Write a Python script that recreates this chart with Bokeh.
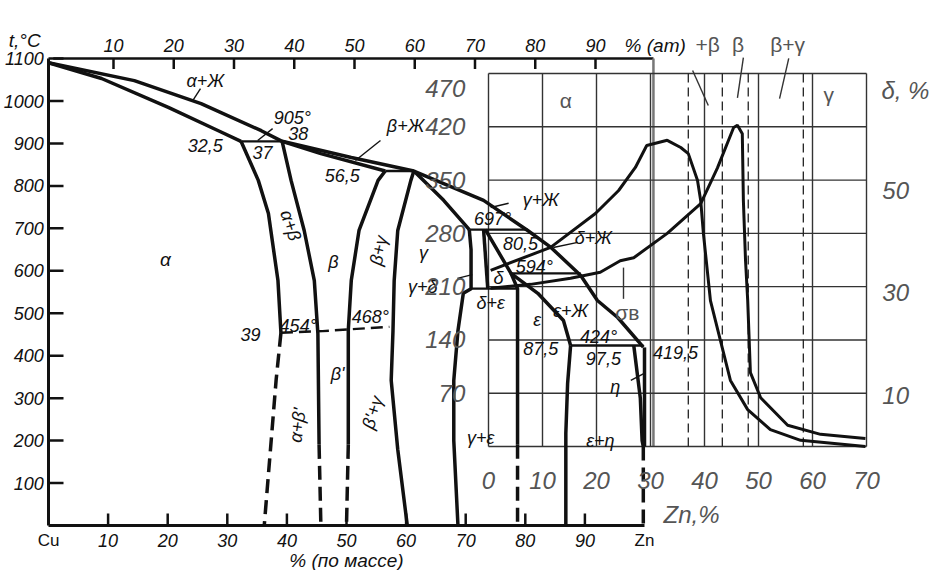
from bokeh.plotting import figure
from bokeh.models import Range1d, ColumnDataSource
from bokeh.embed import file_html
from bokeh.resources import INLINE
from bokeh.core.properties import value

FONT = "Liberation Sans"

# ---------------- Cu-Zn phase diagram (wt.% Zn, deg C) ----------------
temp_ticks = [100, 200, 300, 400, 500, 600, 700, 800, 900, 1000, 1100]
wt_ticks = [10, 20, 30, 40, 50, 60, 70, 80, 90]
wt_ends = [0, 100]
wt_end_names = ["Cu", "Zn"]
at_ticks = [10, 20, 30, 40, 50, 60, 70, 80, 90]

liquidus_wt = [0, 14.4, 25.6, 35.7, 39.2, 50.8, 61.3, 73.0, 80.4, 84.3, 89.3, 92.1, 95.5, 99.8]
liquidus_t = [1090, 1048, 994, 930, 905, 867, 835, 766, 695, 655, 589, 530, 490, 420]
alpha_solidus_wt = [0, 8.9, 20.1, 28.5, 32.3]
alpha_solidus_t = [1090, 1053, 985, 930, 905]
beta_solidus_wt = [39.2, 45.7, 56.5]
beta_solidus_t = [905, 876, 835]
gamma_solidus_wt = [61.3, 66.3, 70.6]
gamma_solidus_t = [835, 766, 697]
de_solidus_wt = [73.3, 77.6, 82.1, 86.4, 87.6]
de_solidus_t = [697, 594, 547, 483, 424]

alpha_solvus_wt = [32.3, 35.2, 36.9, 38.5, 39.0]
alpha_solvus_t = [905, 813, 735, 577, 454]
alpha_solvus_low_wt = [39.0, 38.2, 36.2]
alpha_solvus_low_t = [454, 344, 0]
beta_left_wt = [39.2, 40.7, 42.9, 44.6, 45.2, 45.4]
beta_left_t = [905, 813, 695, 577, 452, 190]
beta_left_low_wt = [45.4, 45.7]
beta_left_low_t = [190, 0]
beta_right_wt = [56.5, 55.3, 52.1, 50.8, 50.3, 50.3, 50.3]
beta_right_t = [835, 813, 695, 577, 460, 342, 190]
beta_right_low_wt = [50.3, 50.0]
beta_right_low_t = [190, 0]
gamma_left_wt = [61.3, 60.8, 58.6, 58.0, 57.8, 57.5, 58.6, 60.2]
gamma_left_t = [835, 813, 695, 577, 459, 342, 179, 0]
gamma_right_wt = [70.6, 70.9, 70.9, 69.6, 68.7, 68.0, 68.0, 68.7]
gamma_right_t = [697, 650, 558, 547, 459, 342, 200, 0]
delta_left_wt = [73.0, 73.7]
delta_left_t = [697, 558]
eps_left_wt = [77.6, 78.7, 78.7]
eps_left_t = [594, 558, 190]
eps_left_low_wt = [78.7, 78.7]
eps_left_low_t = [190, 0]
eps_right_wt = [87.6, 87.1, 86.8, 86.8]
eps_right_t = [424, 335, 217, 0]
eta_wt = [98.2, 99.3, 99.6, 99.8]
eta_t = [424, 300, 200, 186]
zn_wt = [100, 100]
zn_t = [419.5, 186]
zn_low_wt = [99.8, 99.8]
zn_low_t = [186, -10]

iso_t = [905, 835, 697, 594, 558, 424]
iso_from = [32.3, 56.5, 70.6, 77.6, 70.9, 87.6]
iso_to = [39.2, 61.3, 80.4, 89.3, 78.7, 99.8]

order_wt = [39.0, 46.0, 57.2]
order_t = [454, 458, 468]

# ---------------- inset: properties of brass vs Zn content ----------------
zn_grid = [0, 10, 20, 30, 40, 50, 60, 70]
sig_grid = [0, 70, 140, 210, 280, 350, 420, 490]
sig_ticks = [70, 140, 210, 280, 350, 420, 470]
delta_ticks = [10, 30, 50]
phase_limits_zn = [37.0, 43.3, 48.1, 58.3]

sigma_zn = [0.4, 7.8, 15.2, 20.7, 24.4, 26.9, 33.1, 39.3, 42.4, 45.4, 46.1, 47.0, 47.2, 47.6, 48.0, 48.5, 50.4, 55.4, 61.5, 69.8]
sigma_mpa = [208, 213, 221, 229, 244, 248, 280, 319, 366, 419, 422, 411, 323, 244, 192, 97, 64, 28, 16, 10.5]
delta_zn = [0.4, 11.5, 19.8, 24.1, 27.2, 29.3, 33.1, 35.6, 37.0, 38.7, 39.3, 39.8, 41.1, 44.8, 48.0, 52.2, 57.8, 69.8]
delta_pct = [34.4, 38.9, 45.5, 50.0, 54.5, 58.8, 59.8, 58.4, 57.2, 52.0, 48.0, 41.6, 28.5, 12.9, 7.2, 3.3, 1.2, 0]

# ---------------- figure (frame = whole canvas) ----------------
p = figure(width=932, height=570, x_range=Range1d(-8.054, 148.322), y_range=Range1d(-106.01, 1236.75),
           output_backend="svg", toolbar_location=None, x_axis_type=None, y_axis_type=None,
           min_border=0, min_border_left=0, min_border_right=0, min_border_top=0, min_border_bottom=0)
p.outline_line_color = None
p.background_fill_color = "white"
p.border_fill_color = "white"
p.extra_x_ranges = {"at": Range1d(-8.755, 145.934), "zn": Range1d(-90.370, 82.222)}
p.extra_y_ranges = {"sig": Range1d(-162.90, 585.92), "delta": Range1d(-24.219, 87.109)}

INK = "#111"
GRAY = "#555"
T_TICK = 15 / 0.4245      # tick lengths expressed through the scales
W_TICK = 15 / 5.96

# ---------- axes of the phase diagram ----------
p.line([0, 0], [0, 1100], line_width=3, line_color=INK)
p.line([0, 100], [0, 0], line_width=3, line_color=INK)
p.line([0.8, 101.5], [1100, 1100], line_width=2.5, line_color=INK)
p.line([101.5, 101.5], [1100, 186], line_width=2.5, line_color="#777")
p.segment(x0=[0] * len(temp_ticks), y0=temp_ticks, x1=[W_TICK] * len(temp_ticks), y1=temp_ticks,
          line_width=2.5, line_color=INK)
p.segment(x0=wt_ticks, y0=[0] * len(wt_ticks), x1=wt_ticks, y1=[T_TICK * 0.8] * len(wt_ticks),
          line_width=2.5, line_color=INK)
p.segment(x0=at_ticks, y0=[1100] * len(at_ticks), x1=at_ticks, y1=[1100 - T_TICK * 0.7] * len(at_ticks),
          x_range_name="at", line_width=2.5, line_color=INK)

axis_txt = dict(text_font=value(FONT), text_font_size="18px", text_font_style="italic",
                text_baseline="middle", text_color=INK)
p.text(x=[-0.8] * len(temp_ticks), y=temp_ticks, text=[str(v) for v in temp_ticks],
       text_align="right", **axis_txt)
p.text(x=wt_ticks, y=[-35] * len(wt_ticks), text=[str(v) for v in wt_ticks],
       text_align="center", **axis_txt)
p.text(x=wt_ends, y=[-35, -35], text=wt_end_names, text_align="center",
       text_font=value(FONT), text_font_size="17px", text_baseline="middle", text_color=INK)
p.text(x=at_ticks, y=[1130] * len(at_ticks), text=[str(v) for v in at_ticks], x_range_name="at",
       text_align="center", **axis_txt)

# ---------- inset grid ----------
p.segment(x0=zn_grid, y0=[0] * len(zn_grid), x1=zn_grid, y1=[490] * len(zn_grid),
          x_range_name="zn", y_range_name="sig", line_color="#333", line_width=1.4)
p.segment(x0=[0] * len(sig_grid), y0=sig_grid, x1=[70] * len(sig_grid), y1=sig_grid,
          x_range_name="zn", y_range_name="sig", line_color="#333", line_width=1.4)
p.segment(x0=phase_limits_zn, y0=[0] * 4, x1=phase_limits_zn, y1=[490] * 4,
          x_range_name="zn", y_range_name="sig", line_color="#222", line_width=1.3, line_dash="9 5")

# ---------- phase diagram lines ----------
solid_thick = [
    (liquidus_wt, liquidus_t), (alpha_solidus_wt, alpha_solidus_t), (beta_solidus_wt, beta_solidus_t),
    (gamma_solidus_wt, gamma_solidus_t), (de_solidus_wt, de_solidus_t),
    (alpha_solvus_wt, alpha_solvus_t), (beta_left_wt, beta_left_t), (beta_right_wt, beta_right_t),
    (gamma_left_wt, gamma_left_t), (gamma_right_wt, gamma_right_t), (delta_left_wt, delta_left_t),
    (eps_left_wt, eps_left_t), (eps_right_wt, eps_right_t), (eta_wt, eta_t), (zn_wt, zn_t),
]
p.multi_line(xs=[a for a, b in solid_thick], ys=[b for a, b in solid_thick],
             line_color=INK, line_width=3.5)
dashed_thick = [
    (alpha_solvus_low_wt, alpha_solvus_low_t), (beta_left_low_wt, beta_left_low_t),
    (beta_right_low_wt, beta_right_low_t), (eps_left_low_wt, eps_left_low_t), (zn_low_wt, zn_low_t),
]
p.multi_line(xs=[a for a, b in dashed_thick], ys=[b for a, b in dashed_thick],
             line_color=INK, line_width=3.5, line_dash="14 7")
p.segment(x0=iso_from, y0=iso_t, x1=iso_to, y1=iso_t, line_color=INK, line_width=2.4)
p.line(order_wt, order_t, line_color=INK, line_width=2.4, line_dash="12 6")

# leaders in diagram
ld_x0 = [24.2, 35.1, 51.5, 74.2, 84.7, 97.7, 68.6]
ld_y0 = [1001, 907, 860, 749, 655, 342, 582]
ld_x1 = [25.5, 37.6, 55.7, 77.2, 88.8, 100.2, 71.1]
ld_y1 = [1029, 935, 907, 759, 667, 360, 591]
p.segment(x0=ld_x0, y0=ld_y0, x1=ld_x1, y1=ld_y1, line_color=INK, line_width=1.4)

# ---------- inset curves ----------
p.line(sigma_zn, sigma_mpa, x_range_name="zn", y_range_name="sig", line_color=INK, line_width=3)
p.line(delta_zn, delta_pct, x_range_name="zn", y_range_name="delta", line_color=INK, line_width=3)
p.segment(x0=[25.0, 37.8, 47.2, 55.6], y0=[235, 494, 511, 510], x1=[25.0, 40.7, 46.1, 53.9],
          y1=[194, 448, 458, 457], x_range_name="zn", y_range_name="sig", line_color="#333", line_width=1.4)

# ---------- texts ----------
ph_text = ["α+Ж", "905°", "38", "32,5", "37", "β+Ж", "56,5", "α+β", "β", "β+γ", "γ", "γ+δ",
           "697°", "γ+Ж", "80,5", "δ+Ж", "594°", "δ", "δ+ε", "ε", "ε+Ж", "424°", "87,5", "97,5",
           "419,5", "η", "454°", "39", "468°", "β'", "α+β'", "β'+γ", "γ+ε", "ε+η"]
ph_x = [26.3, 40.9, 41.9, 26.3, 35.9, 59.9, 49.3, 40.6, 47.8, 55.4, 62.9, 62.8,
        74.5, 82.6, 79.2, 91.4, 81.5, 75.5, 74.2, 82.0, 87.6, 92.3, 82.6, 93.1,
        105.2, 95.1, 41.9, 33.9, 54.0, 48.5, 41.8, 54.4, 72.5, 92.6]
ph_y = [1048, 961, 923, 895, 879, 942, 825, 707, 620, 648, 641, 561,
        721, 766, 664, 678, 610, 584, 525, 483, 506, 445, 417, 393,
        408, 327, 471, 450, 490, 356, 236, 266, 205, 200]
ph_angle = [0, 0, 0, 0, 0, 0, 0, -72, 0, 78, 0, 0,
            0, 0, 0, 0, 0, 0, 0, 0, 0, 0, 0, 0,
            0, 0, 0, 0, 0, 0, 82, 73, 0, 0]
src = ColumnDataSource(dict(x=ph_x, y=ph_y, text=ph_text, angle=ph_angle))
p.text(x="x", y="y", text="text", angle="angle", angle_units="deg", source=src,
       text_font=value(FONT), text_font_size="18px", text_font_style="italic",
       text_align="center", text_baseline="middle", text_color=INK)
p.text(x=[19.6, -4.0, 50.0, 101.8], y=[627, 1142, -82, 1130], text=["α", "t,°C", "% (по массе)", "% (ат)"],
       text_font=value(FONT), text_font_size="19px", text_font_style="italic",
       text_align="center", text_baseline="middle", text_color=INK)

# inset texts
inset_txt = dict(x_range_name="zn", text_font=value(FONT), text_font_size="24px",
                 text_font_style="italic", text_baseline="middle", text_color=GRAY)
p.text(x=[-4.3] * len(sig_ticks), y=sig_ticks, text=[str(v) for v in sig_ticks],
       y_range_name="sig", text_align="right", **inset_txt)
p.text(x=zn_grid, y=[-45] * len(zn_grid), text=[str(v) for v in zn_grid],
       y_range_name="sig", text_align="center", **inset_txt)
p.text(x=[75.4] * len(delta_ticks), y=delta_ticks, text=[str(v) for v in delta_ticks],
       y_range_name="delta", text_align="center", **inset_txt)
p.text(x=[77.2, 37.6], y=[69.5, -13.3], text=["δ, %", "Zn,%"],
       y_range_name="delta", text_align="center", **inset_txt)
p.text(x=[14.3, 63.0, 25.7, 40.6, 46.2, 55.4], y=[454, 463, 176, 528, 528, 528],
       text=["α", "γ", "σв", "+β", "β", "β+γ"],
       x_range_name="zn", y_range_name="sig", text_font=value(FONT), text_font_size="21px",
       text_align="center", text_baseline="middle", text_color=GRAY)

open("out.html", "w").write(file_html(p, INLINE))
